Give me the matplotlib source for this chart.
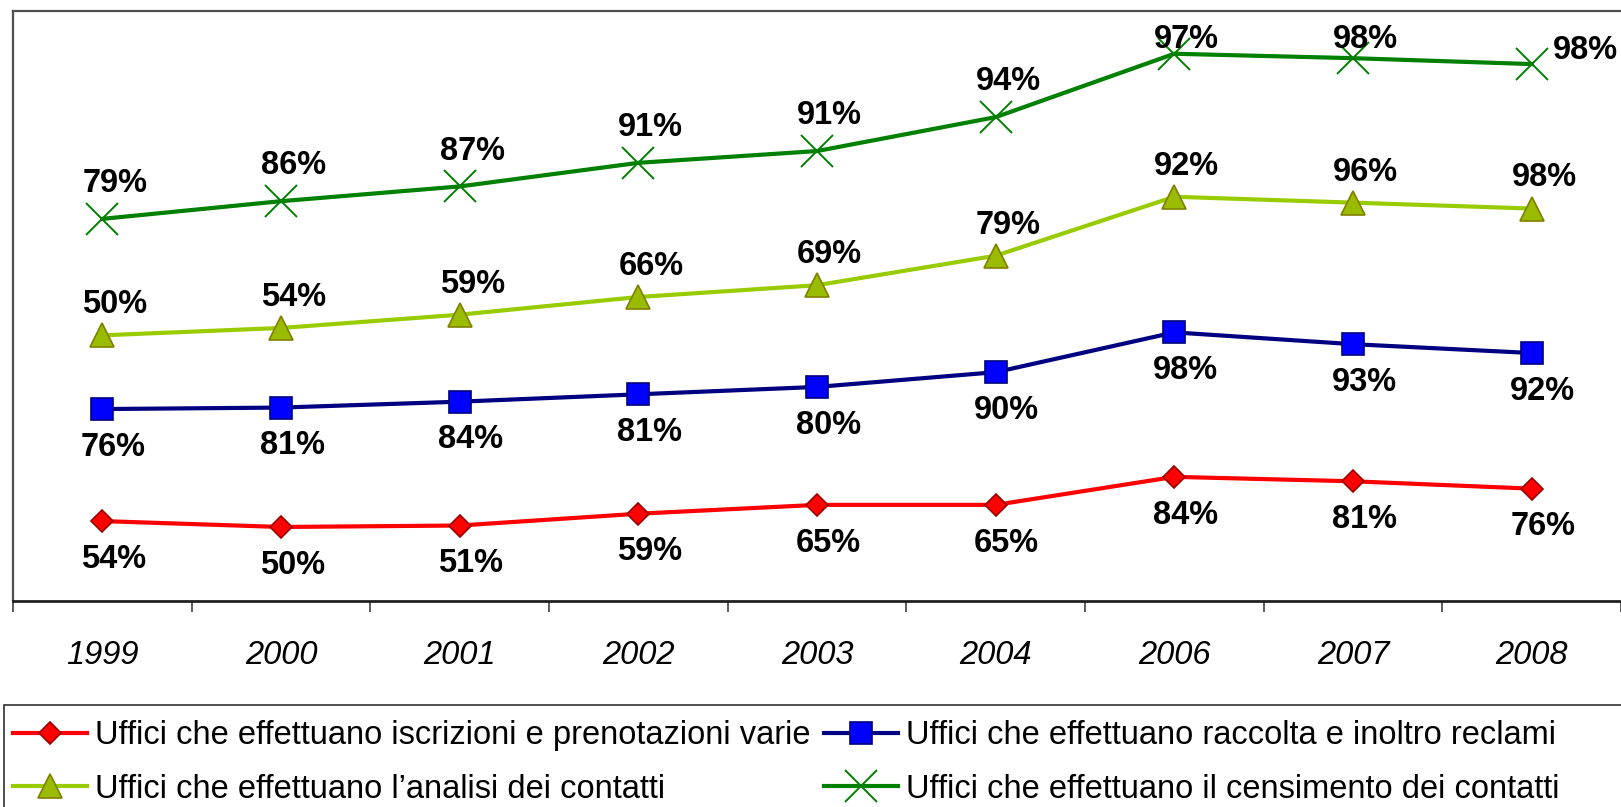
import numpy as np
import matplotlib
matplotlib.use("Agg")
import matplotlib.pyplot as plt
from matplotlib.patches import Rectangle

plt.rcParams['font.family'] = ['Liberation Sans', 'DejaVu Sans']

years = ["1999", "2000", "2001", "2002", "2003", "2004", "2006", "2007", "2008"]

iscrizioni = [54, 50, 51, 59, 65, 65, 84, 81, 76]
reclami = [76, 81, 84, 81, 80, 90, 98, 93, 92]
analisi = [50, 54, 59, 66, 69, 79, 92, 96, 98]
censimento = [79, 86, 87, 91, 91, 94, 97, 98, 98]

labels = [
    "Uffici che effettuano iscrizioni e prenotazioni varie",
    "Uffici che effettuano raccolta e inoltro reclami",
    "Uffici che effettuano l\u2019analisi dei contatti",
    "Uffici che effettuano il censimento dei contatti",
]

# excel "stacked line" chart: each series sits on top of the previous one
series = [iscrizioni, reclami, analisi, censimento]
stacked = np.cumsum(np.array(series), axis=0)

styles = [
    dict(color="#FF0000", marker="D", ms=11, mfc="#FF0000", mec="#990000", mew=1.2),
    dict(color="#000080", marker="s", ms=15.5, mfc="#0000FF", mec="#000080", mew=1.2),
    dict(color="#99CC00", marker="^", ms=17, mfc="#99BB00", mec="#808000", mew=1.2),
    dict(color="#008000", marker="x", ms=23.5, mfc="#008000", mec="#008000", mew=1.4),
]

W, H = 1621, 807
fig = plt.figure(figsize=(W / 100, H / 100), dpi=100)
ax = fig.add_axes([13 / W, 1 - 600.7 / H, 1 - 13 / W, (600.7 - 11) / H])

x = np.arange(len(years))
handles = []
for k in range(4):
    st = styles[k]
    ln, = ax.plot(x, stacked[k], lw=3, color=st["color"], marker=st["marker"],
                  ms=st["ms"], mfc=st["mfc"], mec=st["mec"], mew=st["mew"],
                  solid_joinstyle="round", clip_on=False, zorder=3)
    handles.append(ln)

ax.set_ylim(0, 400)
ax.set_xlim(-0.5, len(years) - 0.5)

# data labels
lab_kw = dict(fontsize=23.5, fontweight="bold", ha="center", va="center",
              textcoords="offset points", annotation_clip=False)
for k in range(2):
    for i, v in enumerate(series[k]):
        ax.annotate("{}%".format(v), (x[i], stacked[k][i]), xytext=(8, -27.5), **lab_kw)
for i, v in enumerate(analisi):
    ax.annotate("{}%".format(v), (x[i], stacked[2][i]), xytext=(9, 22), **lab_kw)
for i, v in enumerate(censimento):
    if i == len(censimento) - 1:
        ax.annotate("{}%".format(v), (x[i], stacked[3][i]), xytext=(39, 10), **lab_kw)
    else:
        yl = min(stacked[3][i] + 24, 381)
        ax.annotate("{}%".format(v), (x[i], yl), xytext=(9, 0), **lab_kw)

# category axis with ticks between categories
ax.set_xticks(np.arange(-0.5, len(years)), minor=False)
ax.set_xticklabels([])
ax.set_xticks(x, minor=True)
ax.set_xticklabels(years, minor=True, fontsize=23.5, fontstyle="italic")
ax.tick_params(axis="x", which="major", direction="out", length=8, width=1.2, color="#404040")
ax.tick_params(axis="x", which="minor", length=0, pad=28)
ax.set_yticks([])

ax.spines["right"].set_visible(False)
ax.spines["bottom"].set_color("#202020")
ax.spines["bottom"].set_linewidth(2)
for s in ["left", "top"]:
    ax.spines[s].set_color("#505050")
    ax.spines[s].set_linewidth(1.6)

# legend, box runs off the bottom/right like the original
fig.add_artist(Rectangle((4 / W, -0.1), 1.2, 0.1 + (807 - 705) / H, transform=fig.transFigure,
                         fill=False, edgecolor="#303030", lw=1.2))
order = [0, 2, 1, 3]
fig.legend([handles[j] for j in order], [labels[j] for j in order],
           loc="upper left", bbox_to_anchor=(13 / W, 1 - 720 / H), ncol=2,
           frameon=False, fontsize=23.5, handlelength=2.26, handletextpad=0.25,
           columnspacing=0.43, labelspacing=0.70, borderpad=0, borderaxespad=0)

fig.savefig("out.png", dpi=100)
